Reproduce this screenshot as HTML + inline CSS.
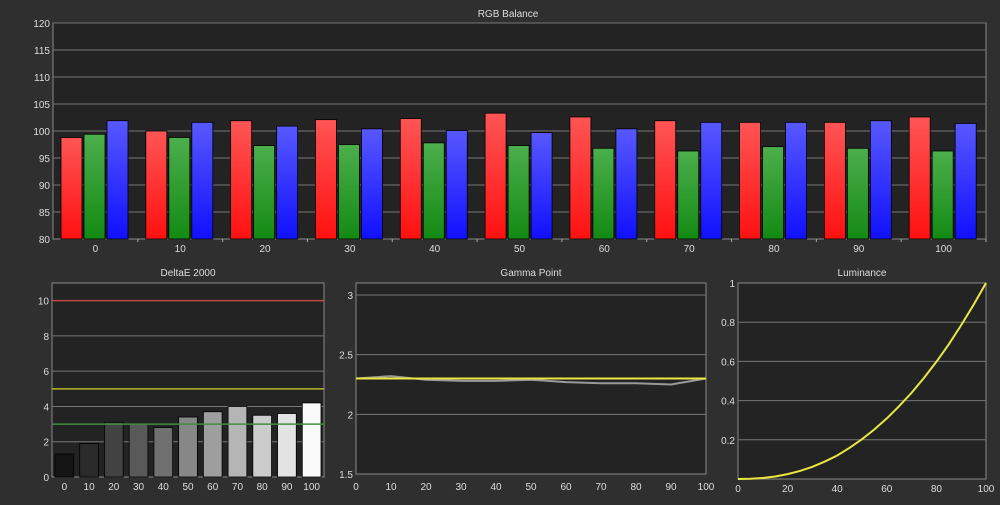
<!DOCTYPE html>
<html><head><meta charset="utf-8"><style>
body{margin:0;background:#2f2f2f;width:1000px;height:500px;overflow:hidden;font-family:"Liberation Sans",sans-serif}
svg text{fill:#ddd;font-size:10px}
</style></head><body>
<svg id="s" width="1000" height="500"></svg>
<script>
const rgbCats=[0,10,20,30,40,50,60,70,80,90,100];
const redVals=[98.8,100,101.9,102.1,102.3,103.3,102.6,101.9,101.6,101.6,102.6];
const greenVals=[99.4,98.8,97.3,97.5,97.8,97.3,96.8,96.3,97.1,96.8,96.3];
const blueVals=[101.9,101.6,100.9,100.4,100.1,99.7,100.4,101.6,101.6,101.9,101.4];
const rgbTicks=[80,85,90,95,100,105,110,115,120];
const deCats=[0,10,20,30,40,50,60,70,80,90,100];
const deVals=[1.3,1.9,3.1,3.0,2.8,3.4,3.7,4.0,3.5,3.6,4.2];
const deTicks=[0,2,4,6,8,10];
const gammaX=[0,10,20,30,40,50,60,70,80,90,100];
const gammaVals=[2.3,2.32,2.29,2.28,2.28,2.29,2.27,2.26,2.26,2.25,2.3];
const gammaTarget=2.3;
const gammaTicks=[1.5,2,2.5,3];
const gammaXTicks=[0,10,20,30,40,50,60,70,80,90,100];
const lumTicks=[0.2,0.4,0.6,0.8,1];
const lumXTicks=[0,20,40,60,80,100];
const lumX=[0,5,10,15,20,25,30,35,40,45,50,55,60,65,70,75,80,85,90,95,100];
const lumVals=[0,0.001,0.005,0.013,0.025,0.041,0.062,0.089,0.12,0.159,0.203,0.253,0.309,0.372,0.44,0.516,0.598,0.687,0.785,0.889,1];

const S=document.getElementById('s');const NS='http://www.w3.org/2000/svg';
function el(t,a,p){const e=document.createElementNS(NS,t);for(const k in a)e.setAttribute(k,a[k]);(p||S).appendChild(e);return e;}
function txt(x,y,s,anchor,name){const t=el('text',{x:x,y:y,'text-anchor':anchor||'middle'});t.textContent=s;

return t;}
const defs=el('defs',{});
function grad(id,c1,c2){const g=el('linearGradient',{id:id,x1:0,y1:0,x2:0,y2:1},defs);el('stop',{offset:0,'stop-color':c1},g);el('stop',{offset:1,'stop-color':c2},g);}
grad('gr','#ff5555','#ff1010');grad('gg','#4caf4c','#138a13');grad('gb','#5858ff','#1010ff');grad('gw','#111','#fff');
function frame(x0,y0,x1,y1,name){const r=el('rect',{x:x0,y:y0,width:x1-x0,height:y1-y0,fill:'#232323',stroke:'#888','stroke-width':1});

}
// RGB
{const L=53,R=986,T=23,B=239;const y=v=>B-(v-80)/40*(B-T);const gw=(R-L)/rgbCats.length;
frame(L,T,R,B,'rgb-plot-area');txt(508,17,'RGB Balance','middle','rgb-title');
rgbTicks.forEach(v=>{if(v>80)el('line',{x1:L,x2:R,y1:y(v),y2:y(v),stroke:'#777'});txt(L-3,y(v)+4,v,'end','rgb-y-tick');});
rgbCats.forEach((c,i)=>{const gx=L+i*gw;txt(gx+gw/2,252,c,'middle','rgb-x-label');
el('line',{x1:gx+gw,x2:gx+gw,y1:B,y2:B+3,stroke:'#aaa'});
[[redVals,'gr'],[greenVals,'gg'],[blueVals,'gb']].forEach(([arr,f],j)=>{const v=arr[i];const b=el('rect',{x:gx+8+j*23,y:y(v),width:21,height:B-y(v),fill:'url(#'+f+')',stroke:'#000','stroke-width':0.8});

});});}
// DeltaE
{const L=52,R=324,T=283,B=477;const y=v=>B-v/11*(B-T);const gw=(R-L)/deCats.length;
frame(L,T,R,B,'deltae-plot-area');txt(188,276,'DeltaE 2000','middle','deltae-title');
deTicks.forEach(v=>{if(v>0&&v<10)el('line',{x1:L,x2:R,y1:y(v),y2:y(v),stroke:'#777'});txt(L-3,y(v)+4,v,'end','deltae-y-tick');});
el('line',{x1:L,x2:R,y1:y(10),y2:y(10),stroke:'#c04848','stroke-width':1.5});
el('line',{x1:L,x2:R,y1:y(5),y2:y(5),stroke:'#b8b830','stroke-width':1.5});
deCats.forEach((c,i)=>{const gx=L+i*gw;const v=deVals[i];const sh=Math.round(20+i*23);
const b=el('rect',{x:gx+3,y:y(v),width:gw-6,height:B-y(v),fill:'rgb('+sh+','+sh+','+sh+')',stroke:'#000','stroke-width':0.8});


txt(gx+gw/2,490,c,'middle','deltae-x-label');});
el('line',{x1:L,x2:R,y1:y(3),y2:y(3),stroke:'#3f8f3f','stroke-width':1.5});}
// Gamma
{const L=356,R=706,T=283,B=474;const y=v=>B-(v-1.5)/1.6*(B-T);const x=v=>L+v/100*(R-L);
frame(L,T,R,B,'gamma-plot-area');txt(531,276,'Gamma Point','middle','gamma-title');
gammaTicks.forEach(v=>{if(v>1.5)el('line',{x1:L,x2:R,y1:y(v),y2:y(v),stroke:'#777'});txt(L-3,y(v)+4,v,'end','gamma-y-tick');});
gammaXTicks.forEach(v=>txt(x(v),490,v,'middle','gamma-x-label'));
const p=el('polyline',{points:gammaX.map((v,i)=>x(v)+','+y(gammaVals[i])).join(' '),fill:'none',stroke:'#999','stroke-width':2});


const t=el('line',{x1:L,x2:R,y1:y(gammaTarget),y2:y(gammaTarget),stroke:'#e8e840','stroke-width':2});

}
// Luminance
{const L=738,R=986,T=283,B=479;const y=v=>B-v*(B-T);const x=v=>L+v/100*(R-L);
frame(L,T,R,B,'luminance-plot-area');txt(862,276,'Luminance','middle','luminance-title');
lumTicks.forEach(v=>{if(v<1)el('line',{x1:L,x2:R,y1:y(v),y2:y(v),stroke:'#777'});txt(L-3,y(v)+4,v,'end','luminance-y-tick');});
lumXTicks.forEach(v=>txt(x(v),492,v,'middle','luminance-x-label'));
const p=el('polyline',{points:lumX.map((v,i)=>x(v)+','+y(lumVals[i])).join(' '),fill:'none',stroke:'#e8e840','stroke-width':2});

}
</script></body></html>
